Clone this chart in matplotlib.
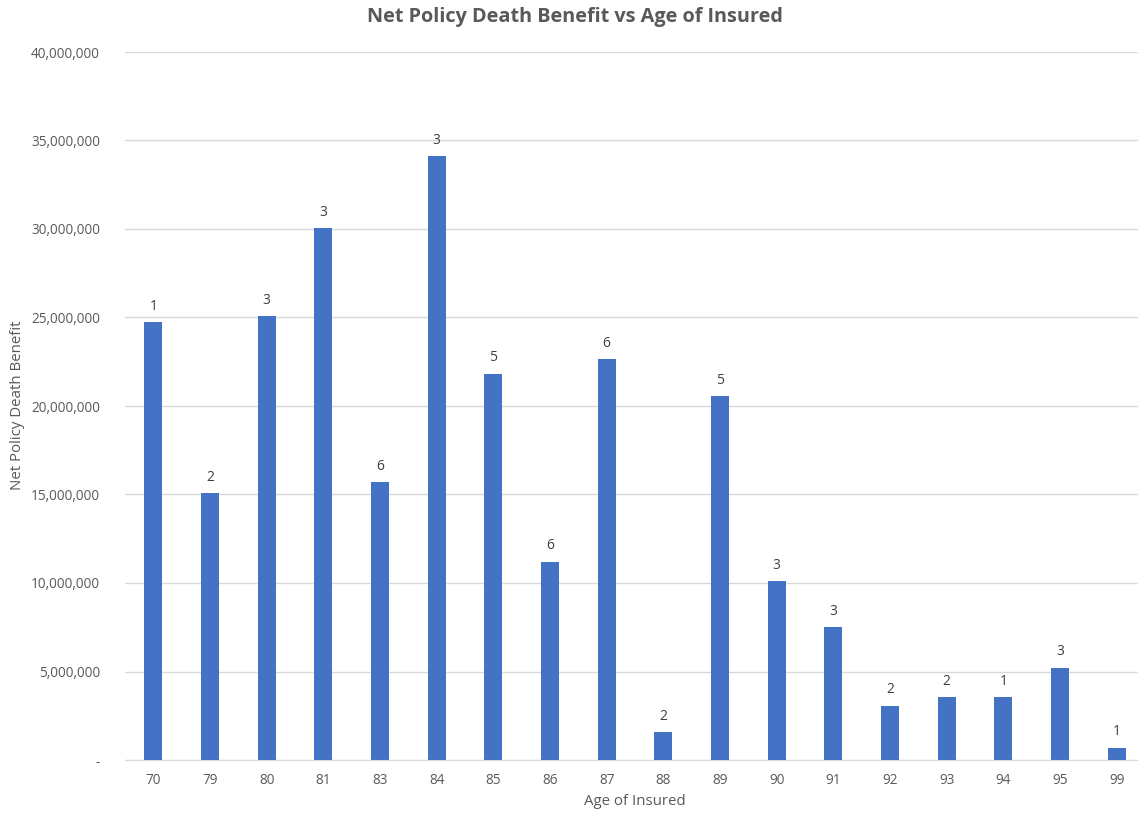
import matplotlib.pyplot as plt
from matplotlib.ticker import FuncFormatter

# ages and benefit values (millions), policy counts on top of bars
ages = ['70', '79', '80', '81', '83', '84', '85', '86', '87', '88',
        '89', '90', '91', '92', '93', '94', '95', '99']
benefit_m = [24.75, 15.08, 25.08, 30.06, 15.68, 34.12, 21.83, 11.2, 22.66, 1.58,
             20.55, 10.1, 7.5, 3.07, 3.56, 3.56, 5.21, 0.7]
counts = [1, 2, 3, 3, 6, 3, 5, 6, 6, 2, 5, 3, 3, 2, 2, 1, 3, 1]

benefit = [v * 1e6 for v in benefit_m]

plt.rcParams['font.family'] = ['Open Sans', 'DejaVu Sans']
grey = '#595959'

fig = plt.figure(figsize=(11.38, 8.13), dpi=100)
# plot area runs slightly past the right edge (cropped like the original)
ax = fig.add_axes([125 / 1138, 53 / 813, 1020 / 1138, 708 / 813])

x = range(len(ages))
bars = ax.bar(x, benefit, width=0.32, color='#4472C4', zorder=3)

for b, c in zip(bars, counts):
    ax.annotate(str(c), (b.get_x() + b.get_width() / 2, b.get_height()),
                xytext=(0, 6), textcoords='offset points',
                ha='center', va='bottom', fontsize=10, color='#404040')

ax.set_xlim(-0.5, len(ages) - 0.5)
ax.set_ylim(0, 40e6)
ax.set_yticks([i * 5e6 for i in range(9)])
ax.yaxis.set_major_formatter(FuncFormatter(lambda v, p: '-' if v == 0 else f'{v:,.0f}'))
ax.set_xticks(list(x))
ax.set_xticklabels(ages)

ax.grid(axis='y', color='#d9d9d9', linewidth=1, zorder=0)
for s in ['top', 'right', 'left']:
    ax.spines[s].set_visible(False)
ax.spines['bottom'].set_color('#d9d9d9')
ax.tick_params(axis='both', length=0, labelsize=9.8, colors=grey)
ax.tick_params(axis='y', pad=18)
ax.tick_params(axis='x', pad=9)

ax.set_xlabel('Age of Insured', fontsize=10.8, color=grey, labelpad=5)
fig.text(18 / 1138, 1 - 405 / 813, 'Net Policy Death Benefit', rotation=90,
         ha='center', va='center', fontsize=10.8, color=grey)
fig.text(575 / 1138, 1 - 17 / 813, 'Net Policy Death Benefit vs Age of Insured',
         ha='center', va='center', fontsize=14.3, fontweight='bold', color=grey)

fig.savefig('out.png', dpi=100, facecolor='white')
